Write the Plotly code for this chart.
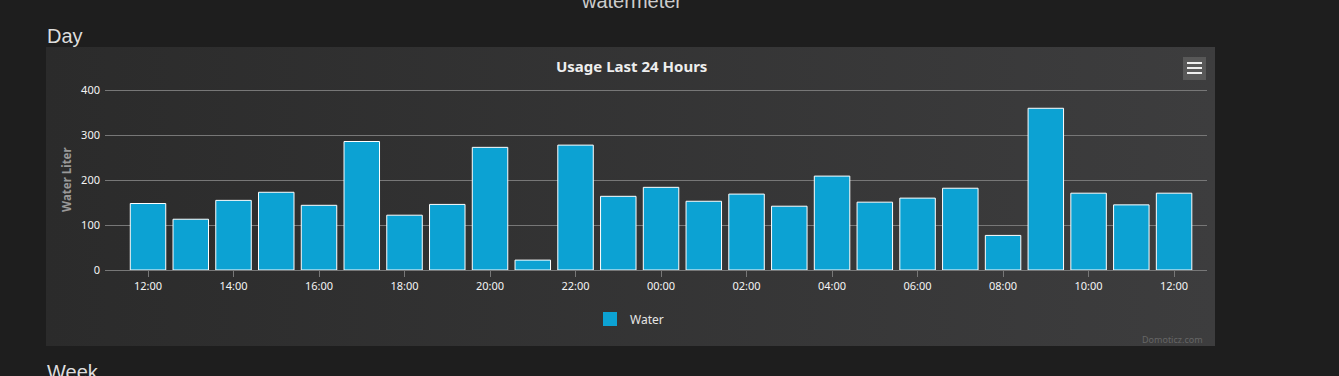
import plotly.graph_objects as go
import pandas as pd

# ---- data ----
hours = pd.date_range("2024-01-01 12:00", "2024-01-02 12:00", freq="h")
water_liter = [148, 113, 155, 173, 144, 286, 122, 146, 273, 22,
               278, 164, 184, 153, 169, 142, 209, 151, 160, 182,
               77, 360, 171, 145, 171]
y_ticks = [0, 100, 200, 300, 400]
series_name = "Water"

W, H = 1339, 376
def px(x):
    return x / W
def py(y):
    return 1 - y / H

FONT = "Noto Sans"
BAR = "#0ca2d3"
fig = go.Figure()

# chart panel background (pixel coordinates on a hidden full-page axis)
fig.add_trace(go.Scatter(
    x=[46, 1215, 1215, 46, 46], y=[47, 47, 346, 346, 47],
    mode="lines", line=dict(width=0), fill="toself",
    fillgradient=dict(type="horizontal",
                      colorscale=[[0, "#2b2b2b"], [1, "#3d3d3e"]]),
    hoverinfo="skip", showlegend=False, xaxis="x", yaxis="y",
))

fig.add_trace(go.Bar(
    x=hours, y=water_liter, name=series_name,
    marker=dict(color=BAR, line=dict(color="#ffffff", width=1)),
    showlegend=False, xaxis="x2", yaxis="y2",
))
# legend entry
fig.add_trace(go.Scatter(
    x=[None], y=[None], mode="markers", name=series_name,
    marker=dict(symbol="square", size=14, color=BAR, line=dict(width=0)),
    xaxis="x2", yaxis="y2", showlegend=True,
))

hour = pd.Timedelta(hours=1)
x0 = hours[0] - 1.006 * hour
x1 = hours[0] + 24.77 * hour

fig.update_layout(
    width=W, height=H, autosize=False,
    margin=dict(l=0, r=0, t=0, b=0, pad=0),
    paper_bgcolor="#1e1e1e",
    plot_bgcolor="rgba(0,0,0,0)",
    bargap=0.17,
    font=dict(family=FONT, color="#e0e0e0", size=11),
    xaxis=dict(domain=[0, 1], range=[0, W], visible=False, fixedrange=True,
               automargin=False),
    yaxis=dict(domain=[0, 1], range=[H, 0], visible=False, fixedrange=True,
               automargin=False),
    xaxis2=dict(
        domain=[px(105), px(1207)], anchor="y2", automargin=False,
        range=[x0, x1],
        type="date",
        tickformat="%H:%M",
        dtick=2 * 3600 * 1000,
        tick0=hours[0],
        ticks="outside", ticklen=6, tickcolor="#777777", tickwidth=1,
        showgrid=False,
        showline=True, linecolor="#777777", linewidth=1,
        tickfont=dict(family=FONT, size=11, color="#f4f4f4"),
        zeroline=False,
    ),
    yaxis2=dict(
        domain=[py(270), py(88.05)], anchor="x2", automargin=False,
        range=[0, 405],
        tickvals=y_ticks,
        showgrid=True, gridcolor="#777777", gridwidth=1,
        zeroline=False, showline=False,
        ticks="", ticklabelstandoff=4,
        tickfont=dict(family=FONT, size=11, color="#f4f4f4"),
    ),
    legend=dict(
        orientation="h",
        x=px(590), xanchor="left",
        y=py(319), yanchor="middle",
        font=dict(family=FONT, size=12, color="#e6e6e6"),
        bgcolor="rgba(0,0,0,0)",
        itemsizing="trace",
    ),
    shapes=[
        dict(type="rect", xref="paper", yref="paper",
             x0=px(1183), x1=px(1206), y0=py(80), y1=py(57),
             fillcolor="#585858", line=dict(width=0)),
        dict(type="line", xref="paper", yref="paper",
             x0=px(1187), x1=px(1202), y0=py(63), y1=py(63),
             line=dict(color="#eeeeee", width=2)),
        dict(type="line", xref="paper", yref="paper",
             x0=px(1187), x1=px(1202), y0=py(68), y1=py(68),
             line=dict(color="#eeeeee", width=2)),
        dict(type="line", xref="paper", yref="paper",
             x0=px(1187), x1=px(1202), y0=py(73), y1=py(73),
             line=dict(color="#eeeeee", width=2)),
    ],
    annotations=[
        dict(text="watermeter", xref="paper", yref="paper",
             x=px(631), y=py(1), xanchor="center", yanchor="middle",
             showarrow=False, font=dict(family="Liberation Sans", size=20, color="#cccccc")),
        dict(text="Day", xref="paper", yref="paper",
             x=px(45), y=py(36), xanchor="left", yanchor="middle",
             showarrow=False, font=dict(family="Liberation Sans", size=20, color="#dddddd")),
        dict(text="Week", xref="paper", yref="paper",
             x=px(45), y=py(372), xanchor="left", yanchor="middle",
             showarrow=False, font=dict(family="Liberation Sans", size=20, color="#dddddd")),
        dict(text="<b>Usage Last 24 Hours</b>", xref="paper", yref="paper",
             x=px(631), y=py(66), xanchor="center", yanchor="middle",
             showarrow=False, font=dict(family=FONT, size=15, color="#eeeeee")),
        dict(text="<b>Water Liter</b>", xref="paper", yref="paper",
             x=px(66), y=py(180), xanchor="center", yanchor="middle",
             textangle=-90, showarrow=False,
             font=dict(family=FONT, size=11.5, color="#999999")),
        dict(text="Domoticz.com", xref="paper", yref="paper",
             x=px(1205), y=py(339), xanchor="right", yanchor="middle",
             showarrow=False, font=dict(family=FONT, size=9, color="#666666")),
    ],
)

fig.write_html(
    "out.html",
    config={"responsive": False, "displayModeBar": False},
    post_script="document.documentElement.style.margin='0';"
                "document.body.style.margin='0';"
                "document.body.style.overflow='hidden';",
)
